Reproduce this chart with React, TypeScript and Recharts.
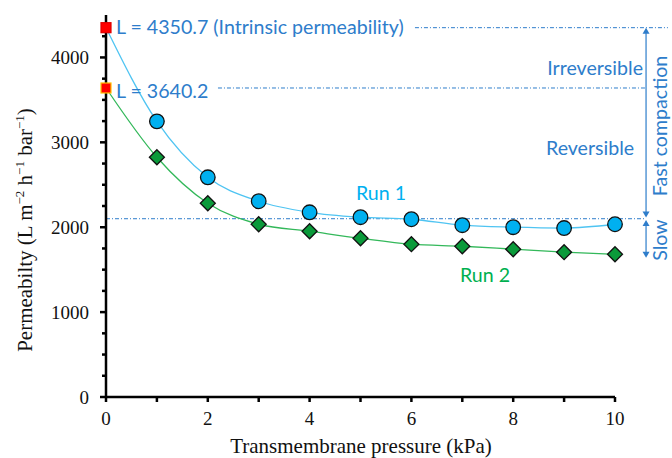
import React from "react";
import {
  ComposedChart, Line, Scatter, XAxis, YAxis, ReferenceLine,
} from "recharts";

const pressure = [0, 1, 2, 3, 4, 5, 6, 7, 8, 9, 10];
const run1 = [3247, 2588, 2306, 2176, 2118, 2094, 2024, 2000, 1990, 2035];
const run2 = [2824, 2282, 2035, 1953, 1870, 1800, 1776, 1741, 1706, 1682];
const intrinsicL = 4350.7;
const run2L = 3640.2;
const slowLevel = 2100;
const slowBottom = 1640;
const xTicks = [0, 1, 2, 3, 4, 5, 6, 7, 8, 9, 10];
const yTicks = [0, 250, 500, 750, 1000, 1250, 1500, 1750, 2000, 2250, 2500, 2750, 3000, 3250, 3500, 3750, 4000, 4250, 4500];

const fitData = pressure.map((x, i) => ({
  x,
  fit1: i === 0 ? intrinsicL : run1[i - 1],
  fit2: i === 0 ? run2L : run2[i - 1],
}));
const run1Points = run1.map((y, i) => ({ x: pressure[i + 1], y }));
const run2Points = run2.map((y, i) => ({ x: pressure[i + 1], y }));

const BLUE_TXT = "#2E7DCB";
const SERIF = "'Liberation Serif', 'Times New Roman', serif";
const SANS = "Lato, 'Open Sans', sans-serif";
const DASH = "4 2 1 2";

function XTick({ x, y, payload }: any) {
  const v = payload.value;
  return (
    <g>
      <line x1={x} y1={y} x2={x} y2={y + 5} stroke="#000" strokeWidth={2.5} />
      {v % 2 === 0 && (
        <text x={x} y={y + 28} textAnchor="middle" fontFamily={SERIF} fontSize={19} fill="#111">{v}</text>
      )}
    </g>
  );
}

function YTick({ x, y, payload }: any) {
  const v = payload.value;
  const major = v % 1000 === 0;
  if (v > 4400) return null;
  return (
    <g>
      <line x1={x - (major ? 6 : 4)} y1={y} x2={x} y2={y} stroke="#000" strokeWidth={2.5} />
      {major && (
        <text x={x - 17} y={y + 6.5} textAnchor="end" fontFamily={SERIF} fontSize={19} fill="#111">{v}</text>
      )}
    </g>
  );
}

function Circle({ cx, cy }: any) {
  return <circle cx={cx} cy={cy} r={7.3} fill="#00B0F0" stroke="#111" strokeWidth={1.3} />;
}

function Diamond({ cx, cy }: any) {
  const s = 7.5;
  return (
    <path d={`M${cx},${cy - s}L${cx + s},${cy}L${cx},${cy + s}L${cx - s},${cy}Z`} fill="#0A9A3A" stroke="#111" strokeWidth={1.3} />
  );
}

const square = (stroke: string) => ({ cx, cy }: any) => (
  <rect x={cx - 5} y={cy - 5} width={10} height={10} fill="#FF0000" stroke={stroke} strokeWidth={1.2} />
);

function DoubleArrow({ x1, y1, x2, y2 }: any) {
  const h = 6;
  const w = 3.5;
  const top = Math.min(y1, y2);
  const bot = Math.max(y1, y2);
  return (
    <g>
      <line x1={x1} y1={top + 2} x2={x2} y2={bot - 2} stroke={BLUE_TXT} strokeWidth={1.2} />
      <path d={`M${x1},${top}L${x1 - w},${top + h}L${x1 + w},${top + h}Z`} fill={BLUE_TXT} />
      <path d={`M${x1},${bot}L${x1 - w},${bot - h}L${x1 + w},${bot - h}Z`} fill={BLUE_TXT} />
    </g>
  );
}

export default function App() {
  return (
    <div style={{ position: "absolute", left: 0, top: 0, width: 672, height: 458, background: "#fff" }}>
      <ComposedChart width={672} height={458} data={fitData} margin={{ top: 15, right: 57, bottom: 0, left: 0 }}>
        <XAxis
          dataKey="x" type="number" domain={[0, 10]} ticks={xTicks} interval={0}
          axisLine={{ stroke: "#000", strokeWidth: 2.5 }} tickLine={false} tickSize={0} tickMargin={0}
          tick={<XTick />} height={61}
        />
        <YAxis
          type="number" domain={[0, 4500]} ticks={yTicks} interval={0}
          axisLine={{ stroke: "#000", strokeWidth: 2.5 }} tickLine={false} tickSize={0} tickMargin={0}
          tick={<YTick />} width={106}
        />
        <ReferenceLine ifOverflow="visible" stroke={BLUE_TXT} strokeWidth={1} strokeDasharray={DASH}
          segment={[{ x: 6.07, y: intrinsicL }, { x: 11.04, y: intrinsicL }]} />
        <ReferenceLine ifOverflow="visible" stroke={BLUE_TXT} strokeWidth={1} strokeDasharray={DASH}
          segment={[{ x: 2.2, y: run2L }, { x: 10.59, y: run2L }]} />
        <ReferenceLine ifOverflow="visible" stroke={BLUE_TXT} strokeWidth={1} strokeDasharray={DASH}
          segment={[{ x: 0, y: slowLevel }, { x: 10.59, y: slowLevel }]} />
        <ReferenceLine ifOverflow="visible" shape={<DoubleArrow />}
          segment={[{ x: 10.61, y: intrinsicL }, { x: 10.61, y: slowLevel + 15 }]} />
        <ReferenceLine ifOverflow="visible" shape={<DoubleArrow />}
          segment={[{ x: 10.61, y: slowLevel - 15 }, { x: 10.61, y: slowBottom }]} />
        <Line dataKey="fit1" type="monotone" stroke="#4FC4F2" strokeWidth={1.3} dot={false} isAnimationActive={false} />
        <Line dataKey="fit2" type="monotone" stroke="#33B85A" strokeWidth={1.3} dot={false} isAnimationActive={false} />
        <Scatter data={run1Points} dataKey="y" shape={<Circle />} isAnimationActive={false} />
        <Scatter data={run2Points} dataKey="y" shape={<Diamond />} isAnimationActive={false} />
        <Scatter data={[{ x: 0, y: intrinsicL }]} dataKey="y" shape={square("#E00000")} isAnimationActive={false} />
        <Scatter data={[{ x: 0, y: run2L }]} dataKey="y" shape={square("#FFC000")} isAnimationActive={false} />
      </ComposedChart>
      <svg width={672} height={458} style={{ position: "absolute", left: 0, top: 0, pointerEvents: "none" }}>
        <g fontFamily={SANS} fontSize={19.6} fill={BLUE_TXT}>
          <text x={116} y={34}>L = 4350.7 (Intrinsic permeability)</text>
          <text x={116} y={98}>L = 3640.2</text>
          <text x={643} y={75} textAnchor="end">Irreversible</text>
          <text x={546} y={155}>Reversible</text>
          <text transform="translate(667,126) rotate(-90)" textAnchor="middle">Fast compaction</text>
          <text transform="translate(667,240) rotate(-90)" textAnchor="middle">Slow</text>
        </g>
        <text x={356} y={200} fontFamily={SANS} fontSize={19.6} fill="#00B0F0">Run 1</text>
        <text x={460} y={282} fontFamily={SANS} fontSize={19.6} fill="#00B050">Run 2</text>
        <text x={361} y={453} textAnchor="middle" fontFamily={SERIF} fontSize={21} fill="#111">Transmembrane pressure (kPa)</text>
        <text transform="translate(32,230) rotate(-90)" textAnchor="middle" fontFamily={SERIF} fontSize={21} fill="#111">
          Permeabilty (L m<tspan dy={-8} fontSize={13}>−2</tspan><tspan dy={8}> h</tspan>
          <tspan dy={-8} fontSize={13}>−1</tspan><tspan dy={8}> bar</tspan>
          <tspan dy={-8} fontSize={13}>−1</tspan><tspan dy={8}>)</tspan>
        </text>
      </svg>
    </div>
  );
}
